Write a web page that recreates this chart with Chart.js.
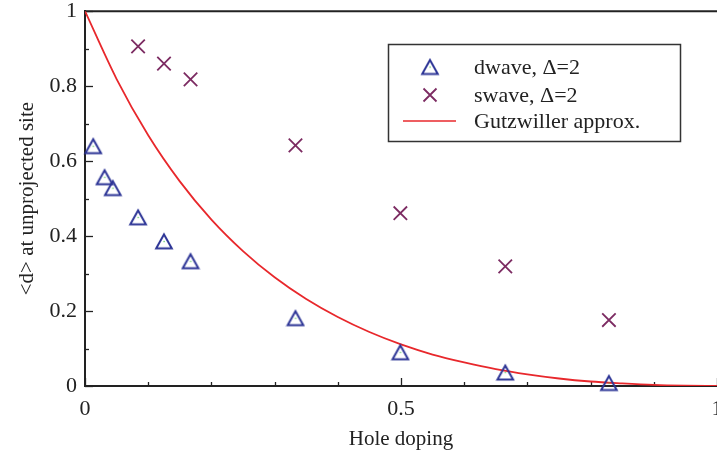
<!DOCTYPE html>
<html>
<head>
<meta charset="utf-8">
<script src="https://cdn.jsdelivr.net/npm/chart.js@4/dist/chart.umd.min.js"></script>
<style>
  html, body { margin: 0; padding: 0; background: #fff; overflow: hidden; }
  #wrap { position: relative; width: 760px; height: 467px; margin-top: -10px; }
</style>
</head>
<body>
<div id="wrap"><canvas id="c" width="760" height="467"></canvas></div>
<script>
// Average double occupancy <d> on the unprojected site vs. hole doping
const dwaveX = [0.013, 0.031, 0.044, 0.084, 0.125, 0.167, 0.333, 0.499, 0.665, 0.829];
const dwaveY = [0.640, 0.557, 0.528, 0.450, 0.386, 0.333, 0.181, 0.090, 0.036, 0.008];

const swaveX = [0.084, 0.125, 0.167, 0.333, 0.499, 0.665, 0.829];
const swaveY = [0.906, 0.860, 0.818, 0.642, 0.461, 0.319, 0.176];

const gutzX = [0, 0.05, 0.1, 0.15, 0.2, 0.25, 0.3, 0.35, 0.4, 0.45, 0.5,
               0.55, 0.6, 0.65, 0.7, 0.75, 0.8, 0.85, 0.9, 0.95, 1];
const gutzY = [1, 0.819, 0.669, 0.546, 0.444, 0.360, 0.290, 0.232, 0.184, 0.144, 0.111,
               0.084, 0.063, 0.045, 0.031, 0.020, 0.012, 0.007, 0.003, 0.001, 0];

const seriesLabels = ['dwave, \u0394=2', 'swave, \u0394=2', 'Gutzwiller approx.'];
const xLabelTicks = [0, 0.5, 1];
const yLabelTicks = [0, 0.2, 0.4, 0.6, 0.8, 1];

const BLUE = '#2d3596';
const PURPLE = '#7c2b62';
const RED = '#e8282c';
const INK = '#222';
const FONT = 'Liberation Serif, Times New Roman, serif';

const toPoints = (xs, ys) => xs.map((x, i) => ({ x, y: ys[i] }));
const near = (a, b) => Math.abs(a - b) < 1e-6;

// Open triangle marker, centred on the point
function makeTriangle() {
  const cv = document.createElement('canvas');
  cv.width = 20; cv.height = 19;
  const g = cv.getContext('2d');
  g.strokeStyle = BLUE;
  g.lineWidth = 2;
  g.lineJoin = 'miter';
  g.beginPath();
  g.moveTo(10, 2.5);
  g.lineTo(2.2, 16.5);
  g.lineTo(17.8, 16.5);
  g.closePath();
  g.stroke();
  g.fillStyle = '#4cc84c';
  g.fillRect(9.5, 9, 1.2, 1.2);
  return cv;
}
const triMarker = makeTriangle();

// Inward tick marks and the top frame line
const framePlugin = {
  id: 'frame',
  beforeDatasetsDraw(chart) {
    const { ctx, chartArea: a, scales } = chart;
    ctx.save();
    ctx.strokeStyle = INK;
    ctx.lineWidth = 1.3;
    scales.x.ticks.forEach(t => {
      const major = xLabelTicks.some(v => near(v, t.value));
      const len = major ? 8 : 4;
      const px = Math.round(scales.x.getPixelForValue(t.value)) + 0.5;
      ctx.beginPath();
      ctx.moveTo(px, a.bottom);
      ctx.lineTo(px, a.bottom - len);
      ctx.stroke();
    });
    scales.y.ticks.forEach(t => {
      const major = yLabelTicks.some(v => near(v, t.value));
      const len = major ? 8 : 4;
      const py = Math.round(scales.y.getPixelForValue(t.value)) + 0.5;
      ctx.beginPath();
      ctx.moveTo(a.left, py);
      ctx.lineTo(a.left + len, py);
      ctx.stroke();
    });
    ctx.lineWidth = 2;
    ctx.beginPath();
    ctx.moveTo(a.left - 1, a.top);
    ctx.lineTo(chart.width, a.top);
    ctx.stroke();
    ctx.restore();
  }
};

// Boxed legend inside the plot
const legendBox = {
  id: 'legendBox',
  afterDraw(chart) {
    const { ctx } = chart;
    const off = 10; // canvas is shifted up by this much on the page
    const bx = 388.5, by = 44.5 + off, bw = 292, bh = 97;
    ctx.save();
    ctx.fillStyle = '#fff';
    ctx.fillRect(bx, by, bw, bh);
    ctx.strokeStyle = '#333';
    ctx.lineWidth = 1.5;
    ctx.strokeRect(bx, by, bw, bh);

    const mx = 430, tx = 474;
    const rows = [67 + off, 95 + off, 121 + off];
    // triangle
    ctx.drawImage(triMarker, mx - triMarker.width / 2, rows[0] - triMarker.height / 2);
    // cross
    ctx.strokeStyle = PURPLE;
    ctx.lineWidth = 1.8;
    const r = 6.5;
    ctx.beginPath();
    ctx.moveTo(mx - r, rows[1] - r); ctx.lineTo(mx + r, rows[1] + r);
    ctx.moveTo(mx + r, rows[1] - r); ctx.lineTo(mx - r, rows[1] + r);
    ctx.stroke();
    // line
    ctx.strokeStyle = RED;
    ctx.lineWidth = 1.6;
    ctx.beginPath();
    ctx.moveTo(403, rows[2]); ctx.lineTo(456, rows[2]);
    ctx.stroke();

    ctx.fillStyle = INK;
    ctx.font = '22px ' + FONT;
    ctx.textBaseline = 'middle';
    ctx.textAlign = 'left';
    seriesLabels.forEach((s, i) => ctx.fillText(s, tx, rows[i] + 1));
    ctx.restore();
  }
};

new Chart(document.getElementById('c'), {
  type: 'scatter',
  data: {
    datasets: [
      {
        label: seriesLabels[0],
        data: toPoints(dwaveX, dwaveY),
        pointStyle: triMarker,
        pointRadius: 9,
        clip: false,
        order: 1
      },
      {
        label: seriesLabels[1],
        data: toPoints(swaveX, swaveY),
        pointStyle: 'crossRot',
        pointRadius: 9.5,
        borderColor: PURPLE,
        pointBorderWidth: 1.8,
        backgroundColor: PURPLE,
        clip: false,
        order: 2
      },
      {
        label: seriesLabels[2],
        type: 'line',
        data: toPoints(gutzX, gutzY),
        borderColor: RED,
        borderWidth: 1.8,
        pointRadius: 0,
        cubicInterpolationMode: 'monotone',
        fill: false,
        order: 3
      }
    ]
  },
  options: {
    responsive: false,
    animation: false,
    events: [],
    layout: { padding: { top: 0, right: 43, left: 0, bottom: 0 } },
    plugins: { legend: { display: false }, tooltip: { enabled: false } },
    scales: {
      x: {
        type: 'linear',
        min: 0, max: 1,
        ticks: {
          stepSize: 0.1,
          autoSkip: false,
          maxRotation: 0,
          padding: 10,
          color: INK,
          font: { family: FONT, size: 22 },
          callback: v => xLabelTicks.some(t => near(t, v)) ? String(Math.round(v * 10) / 10) : ''
        },
        grid: { display: true, color: 'rgba(0,0,0,0)', drawOnChartArea: false, drawTicks: false },
        border: { display: true, color: INK, width: 2 },
        title: {
          display: true, text: 'Hole doping', color: INK,
          font: { family: FONT, size: 21 }, padding: { top: 0, bottom: 5 }
        },
        afterFit: s => { s.height = 71; }
      },
      y: {
        type: 'linear',
        min: 0, max: 1,
        ticks: {
          stepSize: 0.1,
          autoSkip: false,
          padding: 8,
          color: INK,
          font: { family: FONT, size: 22 },
          callback: v => yLabelTicks.some(t => near(t, v)) ? String(Math.round(v * 10) / 10) : ''
        },
        grid: { display: true, color: 'rgba(0,0,0,0)', drawOnChartArea: false, drawTicks: false },
        border: { display: true, color: INK, width: 2 },
        title: {
          display: true, text: '<d> at unprojected site', color: INK,
          font: { family: FONT, size: 21 }, padding: { top: 15, bottom: 0 }
        },
        afterFit: s => { s.width = 85; }
      }
    }
  },
  plugins: [framePlugin, legendBox]
});
</script>
</body>
</html>
